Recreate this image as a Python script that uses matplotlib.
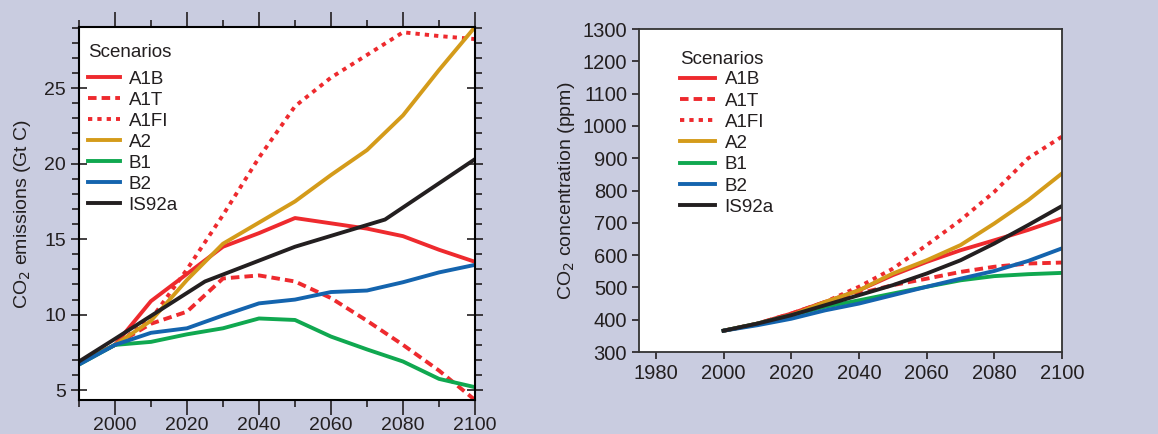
import numpy as np
import matplotlib
matplotlib.use("Agg")
import matplotlib.pyplot as plt
from matplotlib.ticker import MultipleLocator

plt.rcParams['font.family'] = ['Liberation Sans', 'DejaVu Sans']

# emissions (Gt C), left panel
sres_years = [1990, 2000, 2010, 2020, 2030, 2040, 2050, 2060, 2070, 2080, 2090, 2100]
em_a1b = [6.8, 8.0, 10.9, 12.7, 14.5, 15.4, 16.4, 16.05, 15.7, 15.2, 14.3, 13.5]
em_a1t = [6.8, 8.0, 9.4, 10.2, 12.4, 12.6, 12.2, 11.1, 9.6, 8.0, 6.3, 4.35]
em_a1fi = [6.8, 8.0, 9.7, 13.0, 16.6, 20.4, 23.8, 25.7, 27.2, 28.7, 28.45, 28.25]
em_a2 = [6.8, 8.0, 9.6, 12.3, 14.7, 16.1, 17.5, 19.25, 20.9, 23.2, 26.2, 29.05]
em_b1 = [6.7, 8.0, 8.2, 8.7, 9.1, 9.75, 9.65, 8.55, 7.7, 6.9, 5.75, 5.2]
em_b2 = [6.7, 8.0, 8.8, 9.1, 9.95, 10.75, 11.0, 11.5, 11.6, 12.15, 12.8, 13.3]
is92_years = [1990, 2000, 2025, 2050, 2075, 2100]
em_is92a = [6.9, 8.4, 12.2, 14.5, 16.3, 20.3]

# concentrations (ppm), right panel
conc_years = [2000, 2010, 2020, 2030, 2040, 2050, 2060, 2070, 2080, 2090, 2100]
co_a1b = [366, 388, 419, 455, 491, 538, 579, 615, 646, 678, 714]
co_a1t = [366, 388, 419, 455, 481, 507, 527, 548, 564, 574, 577]
co_a1fi = [366, 386, 414, 455, 502, 558, 631, 708, 796, 900, 967]
co_a2 = [366, 386, 414, 455, 491, 543, 584, 631, 698, 770, 853]
co_b1 = [366, 388, 414, 440, 460, 481, 502, 522, 535, 541, 545]
co_b2 = [366, 383, 403, 429, 450, 476, 502, 527, 551, 582, 621]
co_is92a = [366, 388, 414, 445, 476, 507, 543, 584, 636, 693, 752]

bg = '#c9cce0'
txt = '#231f20'
red = '#ee2a2e'
gold = '#d49b1a'
green = '#10a850'
blue = '#1464ae'
black = '#231f20'
dash = (0, (2.2, 1.3))
dot = (0, (1.1, 1.3))
lw = 2.8


def draw(ax, x, a1b, a1t, a1fi, a2, b1, b2, xi, is92a):
    ax.plot(x, a1b, color=red, lw=lw, label='A1B')
    ax.plot(x, a1t, color=red, lw=lw, ls=dash, label='A1T')
    ax.plot(x, a1fi, color=red, lw=lw, ls=dot, label='A1FI')
    ax.plot(x, a2, color=gold, lw=lw, label='A2')
    ax.plot(x, b1, color=green, lw=lw, label='B1')
    ax.plot(x, b2, color=blue, lw=lw, label='B2')
    ax.plot(xi, is92a, color=black, lw=lw, label='IS92a')


def legend(ax, anchor, hlen, pad, spacing, title_gap):
    leg = ax.legend(loc='upper left', bbox_to_anchor=anchor, title='Scenarios',
                    frameon=False, fontsize=13.5, title_fontsize=13.5, alignment='left',
                    handlelength=hlen, handletextpad=pad, labelspacing=spacing,
                    borderaxespad=0.3, borderpad=0.2)
    leg._legend_box.sep = title_gap
    for t in leg.get_texts():
        t.set_color(txt)
    leg.get_title().set_color(txt)


fig = plt.figure(figsize=(11.58, 4.34), dpi=100, facecolor=bg)

# ---- left: emissions
ax1 = fig.add_axes([0.0682, 0.0783, 0.342, 0.8595])
draw(ax1, sres_years, em_a1b, em_a1t, em_a1fi, em_a2, em_b1, em_b2, is92_years, em_is92a)
ax1.set_xlim(1990, 2100)
ax1.set_ylim(4.35, 29.05)
ax1.xaxis.set_minor_locator(MultipleLocator(10))
ax1.yaxis.set_major_locator(MultipleLocator(5))
ax1.yaxis.set_minor_locator(MultipleLocator(1))
ax1.set_xticks([2000, 2020, 2040, 2060, 2080, 2100])
ax1.tick_params(which='both', direction='out', top=True, right=True,
                labelsize=14, colors=txt, width=1.2)
ax1.tick_params(which='major', length=11)
ax1.tick_params(which='minor', length=5)
ax1.tick_params(axis='y', which='major', right=True, direction='inout', length=12)
ax1.tick_params(axis='x', which='major', pad=1)
for s in ax1.spines.values():
    s.set_linewidth(1.5)
    s.set_color('black')
ax1.set_ylabel('CO$_2$ emissions (Gt C)', fontsize=14, color=txt, labelpad=8)
legend(ax1, (0.0, 0.98), 1.7, 0.45, 0.21, 7.0)

# ---- right: concentrations
ax2 = fig.add_axes([0.5518, 0.1889, 0.3653, 0.7442])
draw(ax2, conc_years, co_a1b, co_a1t, co_a1fi, co_a2, co_b1, co_b2, conc_years, co_is92a)
ax2.set_xlim(1975, 2100)
ax2.set_ylim(300, 1300)
ax2.set_xticks(range(1980, 2101, 20))
ax2.set_yticks(range(300, 1301, 100))
ax2.tick_params(direction='out', length=5, width=1.2, labelsize=14.5, colors=txt)
for s in ax2.spines.values():
    s.set_linewidth(1.3)
    s.set_color('#333333')
ax2.set_ylabel('CO$_2$ concentration (ppm)', fontsize=14, color=txt, labelpad=4)
legend(ax2, (0.074, 0.962), 1.9, 0.5, 0.22, 2.5)

fig.savefig('out.png', dpi=100, facecolor=bg)
